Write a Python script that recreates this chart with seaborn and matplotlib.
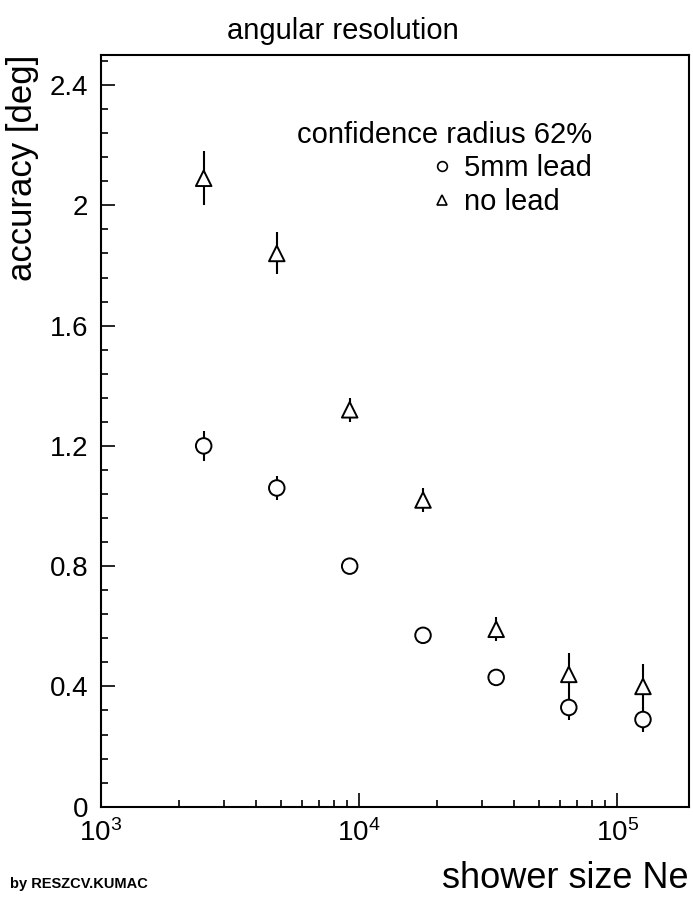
import matplotlib
matplotlib.use("Agg")
import matplotlib.pyplot as plt
from matplotlib.lines import Line2D
from matplotlib.ticker import LogLocator, MultipleLocator, NullFormatter, FixedLocator
import numpy as np
import pandas as pd
import seaborn as sns

# Shower size Ne (bin centres)
shower_size = [2.5e3, 4.8e3, 9.2e3, 1.77e4, 3.4e4, 6.5e4, 1.26e5]
# Angular accuracy [deg] with 5 mm lead
acc_lead = [1.20, 1.06, 0.80, 0.57, 0.43, 0.33, 0.29]
err_lead = [0.05, 0.04, 0.02, 0.02, 0.02, 0.04, 0.04]
# Angular accuracy [deg] without lead
acc_nolead = [2.09, 1.84, 1.32, 1.02, 0.59, 0.44, 0.40]
err_nolead = [0.09, 0.07, 0.04, 0.04, 0.04, 0.07, 0.075]
series_names = ["5mm lead", "no lead"]
y_ticks = [0, 0.4, 0.8, 1.2, 1.6, 2.0, 2.4]
y_tick_labels = ["0", "0.4", "0.8", "1.2", "1.6", "2", "2.4"]

sns.set_theme(style="ticks")
plt.rcParams["font.family"] = ["Liberation Sans", "DejaVu Sans"]
plt.rcParams["mathtext.fontset"] = "custom"
plt.rcParams["mathtext.rm"] = "Liberation Sans"
plt.rcParams["mathtext.it"] = "Liberation Sans"
plt.rcParams["text.color"] = "black"
plt.rcParams["axes.labelcolor"] = "black"
plt.rcParams["legend.labelcolor"] = "black"

df = pd.DataFrame({
    "Ne": shower_size * 2,
    "acc": acc_lead + acc_nolead,
    "err": err_lead + err_nolead,
    "series": [series_names[0]] * len(shower_size) + [series_names[1]] * len(shower_size),
})

fig = plt.figure(figsize=(6.93, 8.97), dpi=100)
ax = fig.add_axes([101 / 693, 1 - 806.7 / 897, 588 / 693, (806.7 - 55) / 897])

# error bars first, hollow markers drawn on top hide the part inside the symbol
ax.errorbar(df["Ne"], df["acc"], yerr=df["err"], fmt="none", ecolor="black",
            elinewidth=1.5, capsize=0, zorder=2)
sns.scatterplot(data=df, x="Ne", y="acc", style="series",
                markers={series_names[0]: "o", series_names[1]: "^"},
                s=125, facecolor="white", edgecolor="black", linewidth=1.4,
                legend=False, ax=ax, zorder=3)

ax.set_xscale("log")
ax.set_xlim(1e3, 1.9e5)
ax.set_ylim(0, 2.5)

ax.xaxis.set_major_locator(LogLocator(base=10, numticks=10))
ax.xaxis.set_minor_locator(LogLocator(base=10, subs=np.arange(2, 10), numticks=20))
ax.xaxis.set_minor_formatter(NullFormatter())
ax.yaxis.set_major_locator(FixedLocator(y_ticks))
ax.set_yticklabels(y_tick_labels)
ax.yaxis.set_minor_locator(MultipleLocator(0.08))

ax.tick_params(which="both", direction="in", color="black", width=1.2,
               top=False, right=False)
ax.tick_params(which="major", length=10, labelsize=20, pad=9, labelcolor="black")
ax.tick_params(which="minor", length=5)
for side in ["left", "bottom", "top", "right"]:
    ax.spines[side].set_visible(True)
    ax.spines[side].set_color("black")
    ax.spines[side].set_linewidth(1.5)

ax.set_xlabel("shower size Ne", fontsize=26, loc="right", labelpad=10)
ax.set_ylabel("accuracy [deg]", fontsize=25, loc="top", labelpad=8)
fig.text(0.495, 1 - 31 / 897, "angular resolution", fontsize=21,
         ha="center", va="center")

handles = [
    Line2D([], [], marker="o", ls="", mfc="white", mec="black", mew=1.2, ms=7),
    Line2D([], [], marker="^", ls="", mfc="white", mec="black", mew=1.2, ms=7),
]
leg = ax.legend(handles, series_names, title="confidence radius 62%",
                loc="upper right", bbox_to_anchor=(0.87, 0.94), frameon=False,
                fontsize=21, title_fontsize=21, alignment="right",
                handlelength=0.8, handletextpad=0.35, labelspacing=0.2,
                borderpad=0.2)

fig.text(10 / 693, 1 - 884 / 897, "by RESZCV.KUMAC", fontsize=10.5, fontweight="bold",
         va="center", ha="left")

fig.savefig("out.png", dpi=100)
